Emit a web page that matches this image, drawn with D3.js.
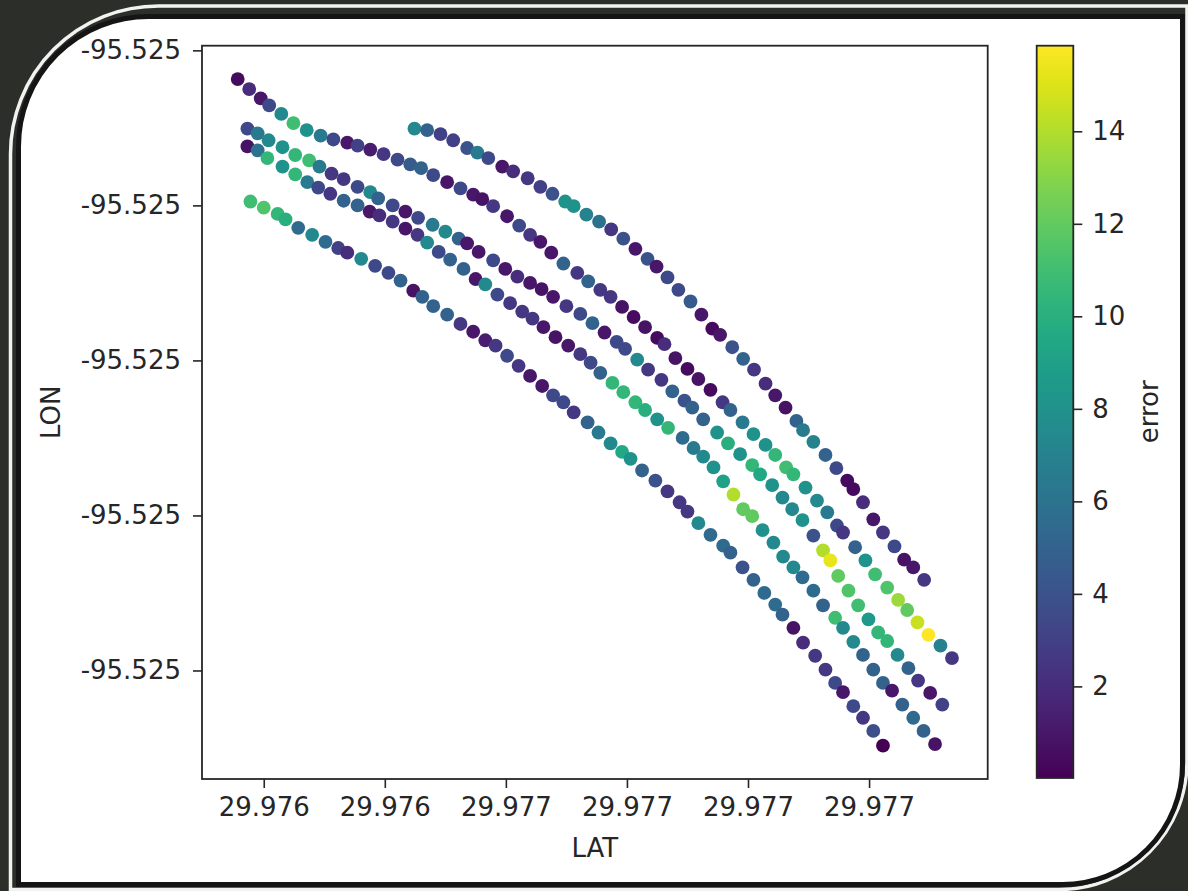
<!DOCTYPE html>
<html><head><meta charset="utf-8">
<script src="https://cdn.jsdelivr.net/npm/d3@7"></script>
<style>html,body{margin:0;padding:0;background:#2c2e2a;}svg{display:block}</style>
</head><body><svg id="c" width="1188" height="891"></svg>
<script>
// ---- data: five GPS tracks (LAT, LON, error) ----
const t0Lat=[29.976449,29.976470,29.976492,29.976513,29.976536,29.976553,29.976571,29.976594,29.976612,29.976636,29.976657,29.976677,29.976698,29.976712,29.976733,29.976754,29.976774,29.976794,29.976814,29.976834,29.976849,29.976867,29.976885,29.976905,29.976923,29.976941,29.976954,29.976974,29.976992,29.977010,29.977029,29.977045,29.977062,29.977080,29.977091,29.977108,29.977128,29.977146,29.977164,29.977174,29.977190,29.977207,29.977223,29.977242,29.977258,29.977273,29.977291];
const t0Lon=[-95.524701,-95.524703,-95.524708,-95.524716,-95.524726,-95.524732,-95.524739,-95.524750,-95.524756,-95.524765,-95.524776,-95.524785,-95.524795,-95.524801,-95.524812,-95.524821,-95.524831,-95.524843,-95.524856,-95.524869,-95.524879,-95.524893,-95.524909,-95.524924,-95.524941,-95.524959,-95.524967,-95.524983,-95.524998,-95.525012,-95.525030,-95.525045,-95.525061,-95.525078,-95.525090,-95.525105,-95.525122,-95.525139,-95.525155,-95.525166,-95.525183,-95.525205,-95.525222,-95.525240,-95.525257,-95.525267,-95.525283];
const t0Err=[7.5,5,3,3,4,6.5,3.5,1,2,2.5,3,4,8,8,7,6,2.5,4,1,4,1,3.5,3.5,4.5,1,0.5,1,4,5,2.5,2,1,0.8,5,6.5,7,5,3.5,0.5,0.5,2,1,2.5,3.5,0.8,1,2.5];

const t1Lat=[29.976157,29.976176,29.976195,29.976209,29.976229,29.976249,29.976271,29.976294,29.976315,29.976338,29.976355,29.976376,29.976398,29.976421,29.976442,29.976460,29.976480,29.976503,29.976525,29.976546,29.976561,29.976579,29.976602,29.976622,29.976640,29.976657,29.976675,29.976695,29.976718,29.976736,29.976756,29.976773,29.976792,29.976811,29.976830,29.976850,29.976862,29.976880,29.976900,29.976918,29.976938,29.976958,29.976971,29.976991,29.977009,29.977029,29.977045,29.977063,29.977075,29.977095,29.977114,29.977131,29.977147,29.977157,29.977177,29.977194,29.977210,29.977230,29.977248,29.977263,29.977280,29.977298,29.977318,29.977337];
const t1Lon=[-95.524637,-95.524650,-95.524662,-95.524671,-95.524682,-95.524694,-95.524703,-95.524710,-95.524715,-95.524719,-95.524723,-95.524728,-95.524734,-95.524741,-95.524747,-95.524752,-95.524761,-95.524770,-95.524778,-95.524786,-95.524792,-95.524801,-95.524814,-95.524826,-95.524838,-95.524847,-95.524861,-95.524875,-95.524887,-95.524898,-95.524909,-95.524918,-95.524931,-95.524944,-95.524957,-95.524971,-95.524979,-95.524997,-95.525011,-95.525024,-95.525038,-95.525054,-95.525064,-95.525080,-95.525095,-95.525109,-95.525122,-95.525138,-95.525147,-95.525164,-95.525181,-95.525196,-95.525213,-95.525222,-95.525241,-95.525258,-95.525276,-95.525293,-95.525309,-95.525322,-95.525338,-95.525354,-95.525368,-95.525384];
const t1Err=[0.5,2,1,3.5,7.5,11,8,6.5,3.5,1,3,1.2,2.5,3.5,4.5,5,3.5,1,3.5,1,0.8,2.5,1,3.5,2.5,1,1,5,2.5,5,2.5,2.5,0.8,0.5,0.8,0.5,2,0.8,0.5,0.8,0.5,2.5,5,6.5,8,8,10.5,11,10.5,8,7.5,6.5,3.5,2.5,5,8,11,11.5,13.5,12,14.5,15.85,7,2.5];

const t2Lat=[29.976173,29.976190,29.976208,29.976231,29.976252,29.976275,29.976292,29.976312,29.976332,29.976355,29.976376,29.976389,29.976413,29.976434,29.976455,29.976479,29.976500,29.976522,29.976536,29.976555,29.976579,29.976599,29.976619,29.976640,29.976659,29.976678,29.976700,29.976723,29.976743,29.976763,29.976783,29.976797,29.976817,29.976835,29.976857,29.976875,29.976895,29.976908,29.976926,29.976949,29.976967,29.976987,29.977007,29.977020,29.977040,29.977057,29.977073,29.977090,29.977108,29.977124,29.977136,29.977149,29.977166,29.977182,29.977199,29.977215,29.977230,29.977247,29.977265,29.977281,29.977301,29.977321];
const t2Lon=[-95.524701,-95.524707,-95.524716,-95.524725,-95.524735,-95.524742,-95.524750,-95.524759,-95.524766,-95.524776,-95.524783,-95.524791,-95.524800,-95.524808,-95.524816,-95.524825,-95.524834,-95.524843,-95.524849,-95.524860,-95.524871,-95.524882,-95.524892,-95.524900,-95.524908,-95.524918,-95.524930,-95.524940,-95.524952,-95.524964,-95.524976,-95.524985,-95.524999,-95.525012,-95.525025,-95.525040,-95.525052,-95.525061,-95.525076,-95.525093,-95.525107,-95.525121,-95.525135,-95.525147,-95.525161,-95.525177,-95.525192,-95.525206,-95.525226,-95.525245,-95.525258,-95.525278,-95.525297,-95.525316,-95.525334,-95.525351,-95.525362,-95.525380,-95.525397,-95.525413,-95.525429,-95.525444];
const t2Err=[3.5,6.5,7.5,8,10.5,11,6.5,2.5,2.5,3.5,7.5,5,3.5,1,3.5,6.5,7.5,5,1,1,3.5,1,2,1,0.8,1,2.5,3.5,5,1,3.5,3.5,7.5,2.5,2.5,5,4,5,5,8,10,8,10.5,9.5,8,7.5,7.5,8,4,14,15.3,12,11.5,11,8.5,10.5,10.5,7.5,5,2.5,1,3];

const t3Lat=[29.976173,29.976190,29.976206,29.976231,29.976252,29.976272,29.976290,29.976310,29.976332,29.976355,29.976375,29.976391,29.976413,29.976434,29.976454,29.976470,29.976489,29.976508,29.976530,29.976550,29.976566,29.976586,29.976607,29.976627,29.976644,29.976662,29.976682,29.976703,29.976723,29.976740,29.976756,29.976776,29.976794,29.976814,29.976830,29.976850,29.976868,29.976892,29.976910,29.976926,29.976943,29.976959,29.976976,29.976992,29.977007,29.977024,29.977042,29.977058,29.977075,29.977090,29.977108,29.977124,29.977144,29.977157,29.977174,29.977190,29.977207,29.977223,29.977238,29.977255,29.977273,29.977290,29.977309];
const t3Lon=[-95.524724,-95.524729,-95.524739,-95.524750,-95.524760,-95.524770,-95.524777,-95.524785,-95.524794,-95.524800,-95.524808,-95.524813,-95.524821,-95.524830,-95.524838,-95.524848,-95.524860,-95.524870,-95.524882,-95.524895,-95.524902,-95.524915,-95.524926,-95.524937,-95.524946,-95.524957,-95.524970,-95.524981,-95.524992,-95.525003,-95.525016,-95.525029,-95.525041,-95.525054,-95.525064,-95.525076,-95.525087,-95.525100,-95.525113,-95.525124,-95.525138,-95.525156,-95.525173,-95.525192,-95.525201,-95.525219,-95.525235,-95.525253,-95.525267,-95.525280,-95.525297,-95.525316,-95.525332,-95.525345,-95.525363,-95.525380,-95.525399,-95.525416,-95.525426,-95.525444,-95.525461,-95.525478,-95.525495];
const t3Err=[0.8,6,10.5,8,10.5,6.5,3.5,2.5,5,5,1,2,2.5,1,2.5,7.5,3.5,5,5,1,7.5,3.5,2.5,2.5,2.5,1,0.8,1,2.5,3.5,5,10.5,10.5,10.5,10,8,10.5,5.5,6.5,7.5,8,9,14,12,12,8,7.5,7.5,7.5,5.5,5.5,5,11,7.5,7.5,5,5,5,1,5,5.5,5,0.8];

const t4Lat=[29.976178,29.976200,29.976223,29.976236,29.976257,29.976280,29.976302,29.976323,29.976338,29.976361,29.976384,29.976406,29.976426,29.976447,29.976462,29.976480,29.976503,29.976525,29.976546,29.976566,29.976583,29.976602,29.976621,29.976640,29.976660,29.976678,29.976695,29.976712,29.976735,29.976753,29.976773,29.976792,29.976806,29.976825,29.976847,29.976867,29.976887,29.976900,29.976918,29.976938,29.976959,29.976971,29.976991,29.977009,29.977027,29.977045,29.977057,29.977075,29.977091,29.977111,29.977128,29.977144,29.977157,29.977174,29.977190,29.977207,29.977223];
const t4Lon=[-95.524795,-95.524803,-95.524811,-95.524818,-95.524829,-95.524838,-95.524847,-95.524855,-95.524861,-95.524869,-95.524878,-95.524887,-95.524897,-95.524910,-95.524918,-95.524930,-95.524941,-95.524953,-95.524963,-95.524974,-95.524981,-95.524994,-95.525007,-95.525020,-95.525033,-95.525045,-95.525054,-95.525067,-95.525080,-95.525093,-95.525107,-95.525118,-95.525127,-95.525142,-95.525155,-95.525169,-95.525183,-95.525195,-95.525210,-95.525225,-95.525239,-95.525248,-95.525267,-95.525283,-95.525300,-95.525315,-95.525328,-95.525345,-95.525364,-95.525381,-95.525399,-95.525416,-95.525428,-95.525446,-95.525461,-95.525478,-95.525497];
const t4Err=[11,11.5,10.5,10,5.5,7.5,5.5,3,2,7.5,3.5,3.5,5,0.8,5,5,5,2.5,1,1.2,2.5,3.5,2.5,1,1,3.5,3.5,2.5,5,6.5,7.5,9.5,8,5,4,2.5,2.5,2.5,7.5,5.5,5.5,5,4,5,5.5,5.5,5,0.8,2,2.5,2.5,3.5,1,3.5,2.5,3.8,0.02];

const xTickValues=[29.9762,29.9764,29.9766,29.9768,29.9770,29.9772];
const yTickValues=[-95.5254,-95.5252,-95.5250,-95.5248,-95.5246];
const cTickValues=[2,4,6,8,10,12,14];
const xLabel="LAT", yLabel="LON", cLabel="error";

// ---- build points ----
const tracks=[[t0Lat,t0Lon,t0Err],[t1Lat,t1Lon,t1Err],[t2Lat,t2Lon,t2Err],[t3Lat,t3Lon,t3Err],[t4Lat,t4Lon,t4Err]];
const pts=[];
tracks.forEach(([la,lo,er])=>la.forEach((v,i)=>pts.push({lat:v,lon:lo[i],err:er[i]})));

const svg=d3.select("#c");
const W=1188,H=891;
const FONT="DejaVu Sans";
const INK="#262626";

// ---- frame decoration ----
function rr(x0,y0,x1,y1,a,b){ // rounded top-left (a) and bottom-right (b) corners
  return `M${x0},${y0+a} A${a},${a} 0 0 1 ${x0+a},${y0} L${x1},${y0} L${x1},${y1-b} A${b},${b} 0 0 1 ${x1-b},${y1} L${x0},${y1} Z`;
}
svg.append("rect").attr("width",W).attr("height",H).attr("fill","#2c2e2a");
svg.append("path").attr("d",rr(10.5,6,1187,889.5,148,128)).attr("fill","none").attr("stroke","#f2f2f0").attr("stroke-width",3.5);
svg.append("path").attr("d",rr(18.5,16.5,1182.5,884.5,130,120)).attr("fill","#ffffff").attr("stroke","#151515").attr("stroke-width",5);

// ---- scales ----
const L=202,T=45.7,R=987.7,B=779;
const latExt=d3.extent(pts,d=>d.lat), lonExt=d3.extent(pts,d=>d.lon);
const pad=(e)=>{const r=e[1]-e[0];return [e[0]-0.05*r,e[1]+0.05*r];};
const x=d3.scaleLinear().domain(pad(latExt)).range([L,R]);
const y=d3.scaleLinear().domain(pad(lonExt)).range([B,T]);
const errExt=d3.extent(pts,d=>d.err);
const color=d3.scaleSequential(d3.interpolateViridis).domain(errExt);
const fmt3=v=>d3.format(".3f")(v).replace("\u2212","-");

// ---- points ----
svg.append("g").selectAll("circle").data(pts).join("circle")
  .attr("cx",d=>x(d.lat)).attr("cy",d=>y(d.lon)).attr("r",6.9)
  .attr("fill",d=>color(d.err));

// ---- axes ----
const axStyle=g=>{g.select(".domain").remove();
  g.selectAll(".tick line").attr("stroke",INK).attr("stroke-width",1.6);
  g.selectAll(".tick text").attr("fill",INK).attr("font-family",FONT).attr("font-size",26);};
svg.append("g").attr("transform",`translate(0,${B})`)
  .call(d3.axisBottom(x).tickValues(xTickValues).tickFormat(fmt3).tickSize(9).tickPadding(10)).call(axStyle);
svg.append("g").attr("transform",`translate(${L},0)`)
  .call(d3.axisLeft(y).tickValues(yTickValues).tickFormat(fmt3).tickSize(9).tickPadding(12)).call(axStyle);
svg.append("rect").attr("x",L).attr("y",T).attr("width",R-L).attr("height",B-T)
  .attr("fill","none").attr("stroke",INK).attr("stroke-width",1.8);

svg.append("text").attr("x",(L+R)/2).attr("y",857).attr("text-anchor","middle")
  .attr("font-family",FONT).attr("font-size",26).attr("fill",INK).text(xLabel);
svg.append("text").attr("transform",`translate(60,${(T+B)/2}) rotate(-90)`).attr("text-anchor","middle")
  .attr("font-family",FONT).attr("font-size",26).attr("fill",INK).text(yLabel);

// ---- colorbar ----
const cbL=1036.7,cbR=1073.3,cbT=45.7,cbB=778;
const defs=svg.append("defs");
const grad=defs.append("linearGradient").attr("id","vir").attr("x1",0).attr("y1",1).attr("x2",0).attr("y2",0);
d3.range(0,1.0001,0.05).forEach(t=>grad.append("stop").attr("offset",t).attr("stop-color",d3.interpolateViridis(t)));
svg.append("rect").attr("x",cbL).attr("y",cbT).attr("width",cbR-cbL).attr("height",cbB-cbT)
  .attr("fill","url(#vir)").attr("stroke",INK).attr("stroke-width",1.8);
const cy=d3.scaleLinear().domain(errExt).range([cbB,cbT]);
svg.append("g").attr("transform",`translate(${cbR},0)`)
  .call(d3.axisRight(cy).tickValues(cTickValues).tickFormat(d3.format("d")).tickSize(9).tickPadding(10)).call(axStyle);
svg.append("text").attr("transform",`translate(1158,${(cbT+cbB)/2}) rotate(-90)`).attr("text-anchor","middle")
  .attr("font-family",FONT).attr("font-size",26).attr("fill",INK).text(cLabel);
</script></body></html>
